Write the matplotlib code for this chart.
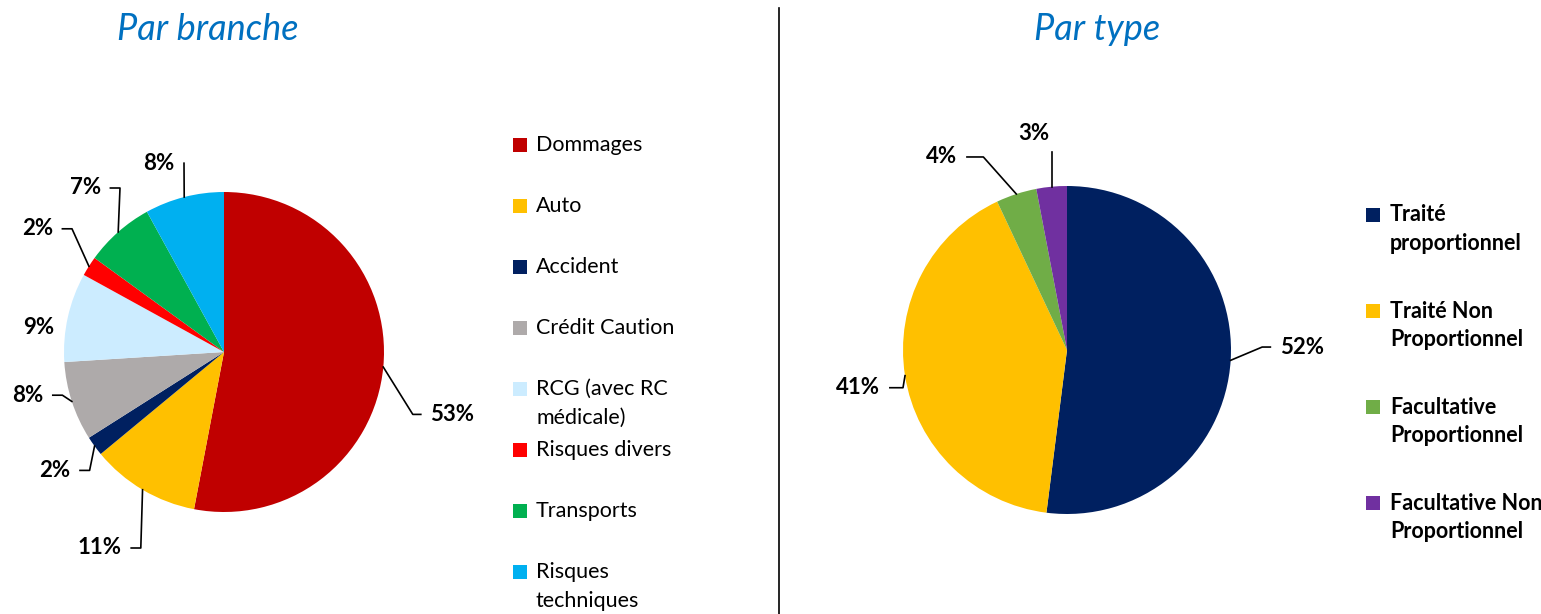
import numpy as np
import matplotlib
matplotlib.use("Agg")
import matplotlib.pyplot as plt
from matplotlib.patches import Rectangle

# data
branch_labels = ["Dommages", "Auto", "Accident", "Crédit Caution",
                 "RCG (avec RC\nmédicale)", "Risques divers", "Transports",
                 "Risques\ntechniques"]
branch_values = [53, 11, 2, 8, 9, 2, 7, 8]
branch_colors = ["#C00000", "#FFC000", "#002060", "#AEAAAA",
                 "#CCECFF", "#FF0000", "#00B050", "#00B0F0"]

type_labels = ["Traité\nproportionnel", "Traité Non\nProportionnel",
               "Facultative\nProportionnel", "Facultative Non\nProportionnel"]
type_values = [52, 41, 4, 3]
type_colors = ["#002060", "#FFC000", "#70AD47", "#7030A0"]

W, H = 1541, 614
FONT = "Lato"
TITLE_BLUE = "#0070C0"

# label layout (data coords relative to pie radius): x, y, ha, horizontal leader length
branch_label_pos = [(1.29, -0.39, "left", 0.05),
                    (-0.64, -1.225, "right", 0.06),
                    (-0.96, -0.74, "right", 0.06),
                    (-1.13, -0.27, "right", 0.06),
                    (-1.06, 0.156, "right", None),
                    (-1.07, 0.77, "right", 0.06),
                    (-0.77, 1.025, "right", 0.06),
                    (-0.31, 1.18, "right", 0.0)]
type_label_pos = [(1.30, 0.018, "left", 0.05),
                  (-1.14, -0.23, "right", 0.08),
                  (-0.67, 1.177, "right", 0.1),
                  (-0.20, 1.32, "center", 0.0)]


def fx(px):
    return px / W


def fy(py):
    return 1 - py / H


def draw_pie(rect, values, colors, label_pos):
    ax = fig.add_axes(rect)
    wedges, _ = ax.pie(values, colors=colors, startangle=90, counterclock=False,
                       radius=1, wedgeprops=dict(linewidth=0))
    ax.set_xlim(-1, 1)
    ax.set_ylim(-1, 1)
    ax.set_aspect("auto")
    ax.axis("off")
    total = sum(values)
    cum = 0
    gap = 0.06
    for v, (tx, ty, ha, seg) in zip(values, label_pos):
        mid = np.deg2rad(90 - (cum + v / 2) / total * 360)
        cum += v
        ex, ey = np.cos(mid), np.sin(mid)
        if seg is not None:
            if ha == "left":
                end = (tx - gap, ty)
                elbow = (end[0] - seg, ty)
                pts = [(ex, ey), elbow, end]
            elif ha == "right":
                end = (tx + gap, ty)
                elbow = (end[0] + seg, ty)
                pts = [(ex, ey), elbow, end]
            else:
                pts = [(ex, ey), (ex, ty - 0.11)]
            xs, ys = zip(*pts)
            ax.plot(xs, ys, color="black", lw=1.2, clip_on=False)
        ax.text(tx, ty, f"{v}%", ha=ha, va="center", fontsize=16,
                fontweight="bold", family=FONT, color="black")
    return ax


def draw_legend(labels, colors, x_sq, x_txt, y0, step, line_step, weight):
    for i, (lab, col) in enumerate(zip(labels, colors)):
        yc = y0 + i * step
        fig.add_artist(Rectangle((fx(x_sq), fy(yc + 7)), 14 / W, 14 / H,
                                 transform=fig.transFigure, color=col, lw=0))
        for j, line in enumerate(lab.split("\n")):
            fig.text(fx(x_txt), fy(yc + j * line_step), line, ha="left",
                     va="center", fontsize=15.5, fontweight=weight,
                     family=FONT, color="black")


fig = plt.figure(figsize=(W / 100, H / 100), dpi=100)

draw_pie([fx(64), fy(512), 320 / W, 320 / H], branch_values, branch_colors,
         branch_label_pos)
draw_pie([fx(903), fy(514), 328 / W, 328 / H], type_values, type_colors,
         type_label_pos)

draw_legend(branch_labels, branch_colors, 513, 536, 145, 61, 29, "normal")
draw_legend(type_labels, type_colors, 1366, 1390, 215, 96, 28, "bold")

fig.text(fx(208), fy(29), "Par branche", ha="center", va="center",
         fontsize=26, style="italic", family=FONT, color=TITLE_BLUE)
fig.text(fx(1097), fy(29), "Par type", ha="center", va="center",
         fontsize=26, style="italic", family=FONT, color=TITLE_BLUE)

fig.add_artist(plt.Line2D([fx(779), fx(779)], [fy(8), 0],
                          transform=fig.transFigure, color="black", lw=1.2))

fig.savefig("out.png", dpi=100, facecolor="white")
